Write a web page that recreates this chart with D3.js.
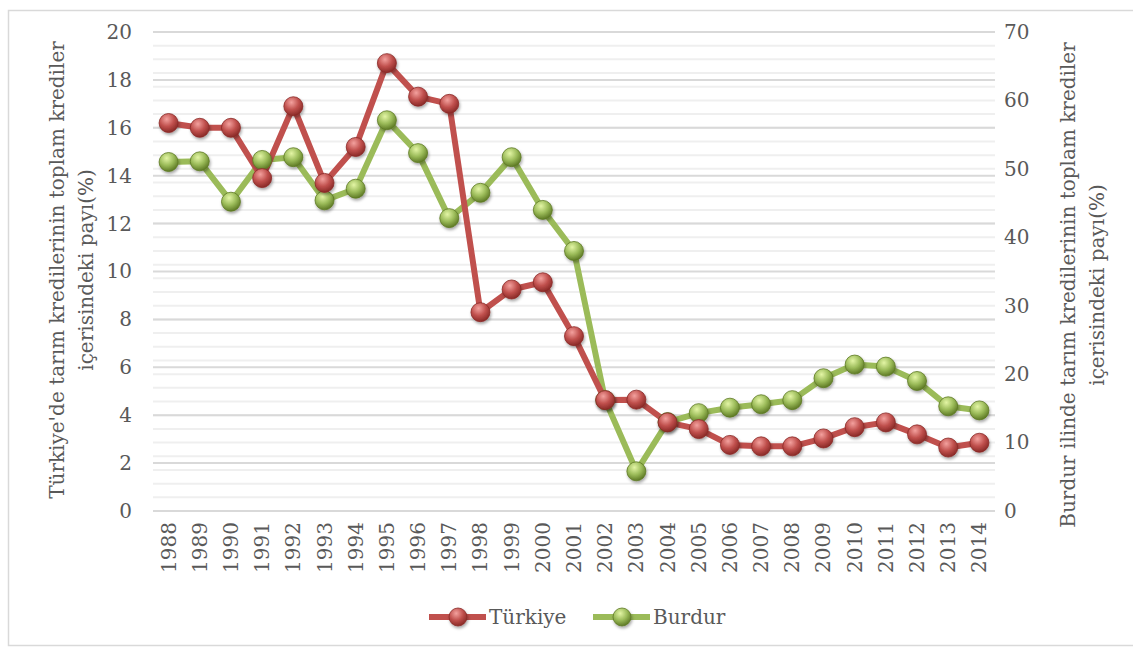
<!DOCTYPE html>
<html>
<head>
<meta charset="utf-8">
<script src="https://cdn.jsdelivr.net/npm/d3@7"></script>
<style>
  body { margin: 0; background: #fff; }
  svg { display: block; font-family: 'DejaVu Serif', 'Liberation Serif', serif; }
</style>
</head>
<body>
<svg id="chart"></svg>
<script>
const years = d3.range(1988, 2015).map(String)
const turkiye = [16.2, 16.0, 16.0, 13.9, 16.9, 13.7, 15.2, 18.7, 17.3, 17.0,
  8.3, 9.25, 9.55, 7.3, 4.63, 4.65, 3.7, 3.42, 2.76, 2.7,
  2.7, 3.03, 3.5, 3.7, 3.2, 2.65, 2.85]
const burdur = [51.0, 51.1, 45.2, 51.3, 51.7, 45.4, 47.1, 57.1, 52.3, 42.8,
  46.5, 51.7, 44.0, 38.0, 16.2, 5.8, 13.0, 14.3, 15.1, 15.6,
  16.2, 19.4, 21.4, 21.1, 19.0, 15.3, 14.7]
const leftTicks = d3.range(0, 21, 2)
const rightTicks = d3.range(0, 71, 10)
const series = [
  { name: 'Türkiye', values: turkiye, axis: 'left', color: '#c0504d', light: '#f3a19e', dark: '#8a2a27' },
  { name: 'Burdur', values: burdur, axis: 'right', color: '#9bbb59', light: '#e3f5a5', dark: '#5e7a25' }
]

const W = 1133, H = 655
const m = { left: 153, right: 995, top: 32, bottom: 511 }
const svg = d3.select('#chart')
svg.attr('width', W).attr('height', H)

const textColor = '#595959'

// outer frame
svg.append('rect')
  .attr('x', 8.5).attr('y', 10.5).attr('width', 1140).attr('height', 635)
  .attr('fill', 'none').attr('stroke', '#d9d9d9').attr('stroke-width', 1.5)

const x = d3.scaleBand().domain(years).range([m.left, m.right])
const yL = d3.scaleLinear().domain([0, 20]).range([m.bottom, m.top])
const yR = d3.scaleLinear().domain([0, 70]).range([m.bottom, m.top])

const defs = svg.append('defs')
series.forEach((s, i) => {
  const g = defs.append('radialGradient').attr('id', 'ball' + i)
    .attr('cx', '40%').attr('cy', '30%').attr('r', '70%')
  g.append('stop').attr('offset', '0%').attr('stop-color', s.light)
  g.append('stop').attr('offset', '55%').attr('stop-color', s.color)
  g.append('stop').attr('offset', '100%').attr('stop-color', s.dark)
})
const shadow = defs.append('filter').attr('id', 'shadow')
  .attr('x', '-50%').attr('y', '-50%').attr('width', '200%').attr('height', '200%')
shadow.append('feDropShadow').attr('dx', 1).attr('dy', 2).attr('stdDeviation', 1.5)
  .attr('flood-color', '#000').attr('flood-opacity', 0.35)

// minor grid (right axis, every 2)
svg.append('g').selectAll('line').data(d3.range(0, 71, 2)).join('line')
  .attr('x1', m.left).attr('x2', m.right)
  .attr('y1', d => yR(d)).attr('y2', d => yR(d))
  .attr('stroke', '#efefef').attr('stroke-width', 2)

// major grid (left axis)
svg.append('g').selectAll('line').data(leftTicks).join('line')
  .attr('x1', m.left).attr('x2', m.right)
  .attr('y1', d => yL(d)).attr('y2', d => yL(d))
  .attr('stroke', '#d9d9d9').attr('stroke-width', 2)

// left axis
const axL = svg.append('g').attr('transform', `translate(${m.left},0)`)
  .call(d3.axisLeft(yL).tickValues(leftTicks).tickSize(0).tickPadding(21))
axL.select('.domain').remove()
axL.selectAll('text').attr('fill', textColor).attr('font-size', 20)
  .attr('font-family', "'DejaVu Serif', serif")

// right axis
const axR = svg.append('g').attr('transform', `translate(${m.right},0)`)
  .call(d3.axisRight(yR).tickValues(rightTicks).tickSize(0).tickPadding(9))
axR.select('.domain').remove()
axR.selectAll('text').attr('fill', textColor).attr('font-size', 20)
  .attr('font-family', "'DejaVu Serif', serif")

// x axis
const axX = svg.append('g').attr('transform', `translate(0,${m.bottom})`)
  .call(d3.axisBottom(x).tickSize(0))
axX.select('.domain').remove()
axX.selectAll('text')
  .attr('fill', textColor).attr('font-size', 20)
  .attr('font-family', "'DejaVu Serif', serif")
  .attr('transform', 'rotate(-90)')
  .attr('text-anchor', 'end')
  .attr('x', -11).attr('y', 0).attr('dy', '0.35em')

// axis titles
const titleL = svg.append('text')
  .attr('transform', 'translate(64,270) rotate(-90)')
  .attr('text-anchor', 'middle').attr('fill', textColor).attr('font-size', 20)
titleL.append('tspan').attr('x', 0).attr('dy', 0).text('Türkiye\'de tarım kredilerinin toplam krediler')
titleL.append('tspan').attr('x', 0).attr('dy', 29).text('içerisindeki payı(%)')

const titleR = svg.append('text')
  .attr('transform', 'translate(1075,285) rotate(-90)')
  .attr('text-anchor', 'middle').attr('fill', textColor).attr('font-size', 20)
titleR.append('tspan').attr('x', 0).attr('dy', 0).text('Burdur ilinde tarım kredilerinin toplam krediler')
titleR.append('tspan').attr('x', 0).attr('dy', 29).text('içerisindeki payı(%)')

// lines + markers (Burdur drawn first so Türkiye sits on top where relevant)
const drawOrder = [1, 0]
drawOrder.forEach(i => {
  const s = series[i]
  const y = s.axis === 'left' ? yL : yR
  const cx = (d, j) => x(years[j]) + x.bandwidth() / 2
  svg.append('path').datum(s.values)
    .attr('fill', 'none').attr('stroke', s.color).attr('stroke-width', 6)
    .attr('stroke-linejoin', 'round')
    .attr('d', d3.line().x(cx).y(d => y(d)))
})
drawOrder.forEach(i => {
  const s = series[i]
  const y = s.axis === 'left' ? yL : yR
  svg.append('g').attr('filter', 'url(#shadow)')
    .selectAll('circle').data(s.values).join('circle')
    .attr('cx', (d, j) => x(years[j]) + x.bandwidth() / 2)
    .attr('cy', d => y(d))
    .attr('r', 9.5)
    .attr('fill', `url(#ball${i})`)
    .attr('stroke', s.dark).attr('stroke-width', 0.8)
})

// legend
const legend = svg.append('g').attr('transform', 'translate(0,617)')
const legendPos = [429, 593]
series.forEach((s, i) => {
  const lx = legendPos[i]
  const g = legend.append('g').attr('transform', `translate(${lx},0)`)
  g.append('line').attr('x1', 0).attr('x2', 57).attr('y1', 0).attr('y2', 0)
    .attr('stroke', s.color).attr('stroke-width', 6)
  g.append('circle').attr('cx', 29).attr('cy', 0).attr('r', 9)
    .attr('fill', `url(#ball${i})`).attr('stroke', s.dark).attr('stroke-width', 0.8)
    .attr('filter', 'url(#shadow)')
  g.append('text').attr('x', 60).attr('y', 0).attr('dy', '0.35em')
    .attr('fill', textColor).attr('font-size', 20).text(s.name)
})
</script>
</body>
</html>
